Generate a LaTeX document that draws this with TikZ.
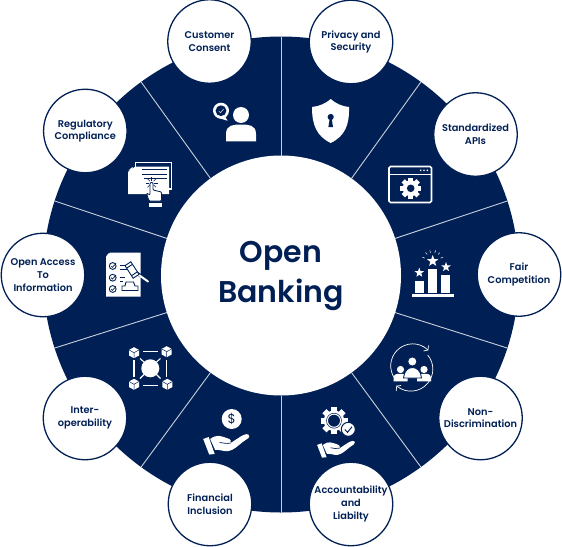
\documentclass[tikz,border=0pt]{standalone}
\usepackage{fontspec}
\setmainfont{Poppins}
\newfontfamily\topicfont{Poppins SemiBold}
\usetikzlibrary{positioning, calc, shapes.geometric}
\definecolor{OB_Navy}{HTML}{002055}
\definecolor{OB_Spoke}{HTML}{C9CFDB}

\newcommand{\gearmark}[3]{% centre x, centre y, radius
  \foreach \t in {0,45,...,315} {
    \fill[white, shift={(#1,#2)}, rotate=\t] (-0.22*#3,0) rectangle (0.22*#3,1.0*#3);
  }
  \fill[white] (#1,#2) circle (0.76*#3);
}
\newcommand{\handmark}[3]{% left x, top y, scale
  \begin{scope}[shift={(#1,#2)}, scale=#3]
    \fill[white] (0.5,6) -- (6,4) -- (12,21) -- (6.5,21.5) -- cycle;
    \fill[white] (7.5,6) .. controls (14,1) and (18,3) .. (24,5)
      .. controls (28,6) and (29,8) .. (28,10) -- (38,3.5)
      .. controls (42,1) and (46,0) .. (46.5,3)
      .. controls (47,5) and (44,6) .. (40,9)
      .. controls (35,13) and (31,17) .. (26,18)
      .. controls (21,19) and (17,16) .. (12.5,17) -- cycle;
    \draw[OB_Navy, line width=0.7pt] (17,9.5) .. controls (21,10) and (24,11) .. (28,10);
  \end{scope}
}
\newcommand{\personmark}[4]{% x, y, head radius, body half width
  \fill[white] (#1,#2) circle (#3);
  \fill[white] (#1-#4,#2+3.3*#3) -- (#1-#4,#2+2.4*#3)
    .. controls (#1-#4,#2+1.2*#3) and (#1-0.5*#4,#2+1.2*#3) .. (#1,#2+1.2*#3)
    .. controls (#1+0.5*#4,#2+1.2*#3) and (#1+#4,#2+1.2*#3) .. (#1+#4,#2+2.4*#3)
    -- (#1+#4,#2+3.3*#3) -- cycle;
}

\begin{document}
\begin{tikzpicture}[x=1pt, y=-1pt,
  rimdisc/.style={circle, fill=OB_Navy, minimum size=476pt, inner sep=0pt, outer sep=0pt},
  hubdisc/.style={circle, fill=white, minimum size=240pt, inner sep=0pt, outer sep=0pt,
    text=OB_Navy, align=center, font=\fontsize{30}{40}\selectfont\topicfont},
  topic/.style={circle, draw=OB_Navy, line width=1.3pt, fill=white, minimum size=83.5pt,
    inner sep=0pt, outer sep=0pt, text=OB_Navy, align=center,
    font=\fontsize{9.8}{12.6}\selectfont\topicfont},
  spoke/.style={draw=OB_Spoke, line width=0.9pt},
  starmark/.style={star, star points=5, star point ratio=2.4, fill=white, inner sep=0pt, outer sep=0pt},
  navyline/.style={draw=OB_Navy, line width=0.9pt},
  whiteline/.style={draw=white, line width=1.1pt}
]
  \useasboundingbox (0,0) rectangle (562,546);

  % Disc and hub
  \node[rimdisc] (rim) at (281,274.5) {};
  \foreach \a in {18,54,...,342} {
    \coordinate (rim\a) at ($(rim)+(-\a:238)$);
  }
  \node[hubdisc] (hub) at (281,275.5) {Open\\Banking};
  \foreach \a in {18,54,...,342} {
    \draw[spoke] (hub.\a) -- (rim\a);
  }

  % Topic circles
  \node[topic] (fair) at (519,274.5) {Fair\\Competition};
  \node[topic] (apis) at (475.5,134.5) {Standardized\\APIs};
  \node[topic] (privacy) at (351,42) {Privacy and\\Security};
  \node[topic] (consent) at (209.5,41.5) {Customer\\Consent};
  \node[topic] (regulatory) at (85.3,131) {Regulatory\\Compliance};
  \node[topic] (access) at (43,275) {Open Access\\To\\Information};
  \node[topic] (inter) at (85,418) {Inter-\\operability};
  \node[topic] (inclusion) at (210,504) {Financial\\Inclusion};
  \node[topic] (account) at (351,504) {Accountability\\and\\Liabilty};
  \node[topic] (nondisc) at (480.5,418) {Non-\\Discrimination};

  % Consent icon
  \personmark{241}{115}{8}{15}
  \fill[white] (221,110.7) circle (8);
  \fill[white] (224.5,115) -- (227.5,120.7) -- (218.5,118) -- cycle;
  \fill[OB_Navy] (221,110.7) circle (5.4);
  \draw[OB_Spoke, line width=0.6pt] (218.8,111) -- (220.5,112.7) -- (223.6,109);

  % Shield icon
  \fill[white] (330.7,99) .. controls (335,103) and (342,106.5) .. (349,107)
    .. controls (349.5,125) and (345,136) .. (330.7,143)
    .. controls (316.5,136) and (312,125) .. (312,107)
    .. controls (319,106.5) and (326.5,103) .. (330.7,99) -- cycle;
  \fill[OB_Navy] (330.7,117) circle (3.1);
  \fill[OB_Navy] (329.8,118) -- (331.6,118) -- (333,127) -- (328.4,127) -- cycle;

  % Window icon
  \draw[whiteline, line width=1.6pt, rounded corners=1.5pt] (389,166.5) rectangle (431.5,202.5);
  \draw[whiteline, line width=1.6pt] (389,174.5) -- (431.5,174.5);
  \foreach \d in {420.7,424,427.3} {
    \fill[white] (\d,170.3) circle (0.9);
  }
  \gearmark{410.7}{188.3}{10.5}
  \fill[OB_Navy] (410.7,188.3) circle (3.8);

  % Bar chart icon
  \fill[white] (411.7,294) rectangle (454,297);
  \fill[white] (415,280.7) rectangle (424,292.5);
  \fill[white] (428.3,269.3) rectangle (437.3,292.5);
  \fill[white] (441.3,275) rectangle (450.3,292.5);
  \node[starmark, minimum size=10pt] (starleft) at (419.3,272.7) {};
  \node[starmark, minimum size=12pt] (starmid) at (432.7,261) {};
  \node[starmark, minimum size=10pt] (starright) at (446,267) {};
  \foreach \t in {-160,-130,-105,-75,-50,-20} {
    \draw[white, line width=0.5pt] ($(starmid)+(\t:8.5)$) -- ($(starmid)+(\t:11)$);
  }

  % Non-discrimination icon
  \draw[white, line width=0.7pt] (428,350) arc (-46:-215:22) ;
  \draw[white, line width=0.7pt] (396.7,386) arc (130:-40:22);
  \draw[white, line width=0.7pt] (423.5,351) -- (428,350) -- (428.5,345.5);
  \draw[white, line width=0.7pt] (401,385.5) -- (396.7,386) -- (396.2,391);
  \personmark{400.5}{369.5}{3.6}{7}
  \personmark{424}{369.5}{3.6}{7}
  \draw[OB_Navy, fill=white, line width=0.9pt] (412.3,361.5) circle (4.6);
  \draw[OB_Navy, fill=white, line width=0.9pt] (403.5,378) .. controls (404,371) and (408,367.5) .. (412.3,367.5)
    .. controls (417,367.5) and (421,371) .. (421.5,378) -- cycle;

  % Gear and hand icon
  \gearmark{334}{420.7}{13.5}
  \fill[OB_Navy] (334,420.7) circle (7.8);
  \draw[white, fill=OB_Navy, line width=1pt] (334,420.7) circle (6.6);
  \draw[OB_Navy, fill=white, line width=1pt] (348.3,429.3) circle (7);
  \draw[OB_Navy, line width=1pt] (344.8,429.5) -- (347.5,432.3) -- (352,426.8);
  \handmark{316.7}{440}{0.82}

  % Dollar and hand icon
  \fill[white] (231.7,419) circle (10);
  \node[inner sep=0pt, text=OB_Navy, font=\fontsize{13}{13}\selectfont] (dollar) at (231.7,419) {\$};
  \handmark{202.7}{433}{1}

  % Blockchain icon
  \fill[white] (150.3,368.3) circle (9);
  \foreach \cx/\cy in {134/352.7, 166.7/351.7, 134/384.3, 167.3/384.3} {
    \fill[white, shift={(\cx,\cy)}] (0,-5.5) -- (5,-2.8) -- (5,2.8) -- (0,5.5) -- (-5,2.8) -- (-5,-2.8) -- cycle;
    \draw[OB_Navy, line width=0.5pt, shift={(\cx,\cy)}] (-5,-2.8) -- (0,0) -- (5,-2.8) (0,0) -- (0,5.5);
  }
  \draw[whiteline] (143,351.7) -- (158,351.7);
  \draw[whiteline] (143,385.7) -- (158,385.7);
  \draw[whiteline] (134,360) -- (134,377);
  \draw[whiteline] (166.7,360) -- (166.7,377);
  \draw[whiteline] (140,358.5) -- (144,362);
  \draw[whiteline] (160.5,358.5) -- (156.5,362);
  \draw[whiteline] (140,378.5) -- (144,374.5);
  \draw[whiteline] (160.5,378.5) -- (156.5,374.5);

  % Checklist and gavel icon
  \fill[white] (110,252.7) -- (140.7,252.7) -- (140.7,296.7) -- (106,296.7) -- (106,256.7) -- cycle;
  \fill[white] (106.5,255.5) -- (109.2,252.9) -- (109.2,255.5) -- cycle;
  \foreach \r in {266,277.7,289} {
    \draw[navyline] (112.7,\r) circle (3.4);
    \draw[navyline, line width=0.7pt] (111,\r) -- (112.4,\r+1.4) -- (116,\r-2.6);
  }
  \draw[navyline] (120,265) -- (129,265);
  \draw[navyline] (120,269.3) -- (127,269.3);
  \draw[navyline] (120,277) -- (124.5,277);
  \draw[navyline] (120,281) -- (123,281);
  \draw[navyline, line width=3.2pt] (135,272) -- (141,276);
  \draw[white, line width=2pt, line cap=round] (134,271.5) -- (148,281.5);
  \draw[OB_Navy, fill=white, line width=0.9pt, rotate around={123:(132,270)}] (124.5,266.5) rectangle (139.5,273.5);
  \draw[OB_Navy, line width=0.9pt, rotate around={123:(132,270)}] (127.5,266.5) -- (127.5,273.5) (136.5,266.5) -- (136.5,273.5);
  \draw[OB_Navy, line width=0.9pt] (126,282) -- (133.5,282) -- (135,286) -- (138,286) -- (138,290.5)
    -- (122,290.5) -- (122,286) -- (125,286) -- cycle;

  % Documents and hand icon
  \draw[whiteline] (135.7,162.9) rectangle (171.4,189);
  \fill[white] (135,166.7) -- (169,166.7) -- (169,194) -- (128,194) -- (128,172) -- cycle;
  \fill[white] (128.5,170.5) -- (132.5,166.9) -- (132.5,170.5) -- cycle;
  \draw[navyline] (141.7,169.5) -- (166.7,169.5);
  \draw[navyline] (141.7,174) -- (166.7,174);
  \draw[navyline] (144,178.7) -- (166.7,178.7);
  \foreach \t in {0,45,...,315} {
    \ifnum\t=90 \else
      \draw[OB_Navy, line width=0.6pt] ($(151.7,183)+(\t:2.5)$) -- ($(151.7,183)+(\t:6)$);
    \fi
  }
  \draw[OB_Navy, fill=white, line width=0.8pt, rounded corners=1pt]
    (150,182.5) -- (153,182.5) -- (153,190) -- (161.5,192) -- (161.5,201) -- (149,201)
    -- (146.5,193) -- (150,195) -- cycle;
  \fill[white] (149,202.5) rectangle (161.5,206.7);
\end{tikzpicture}
\end{document}
